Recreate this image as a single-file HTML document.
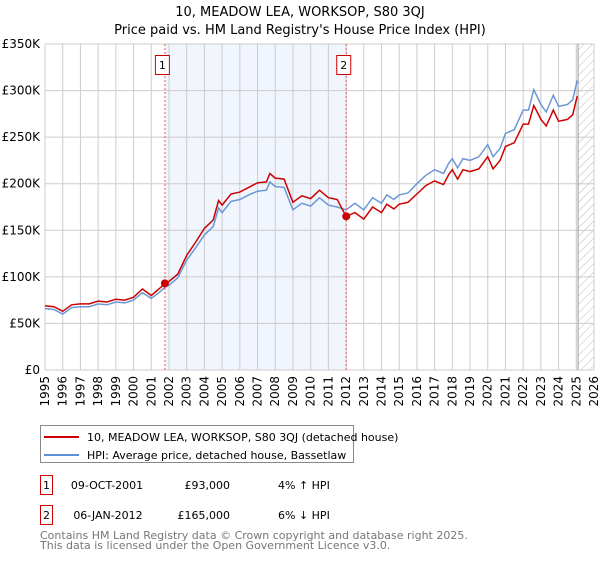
<!DOCTYPE html>
<html><head><meta charset="utf-8"><style>
body{margin:0;background:#fff;font-family:"Liberation Sans","DejaVu Sans",sans-serif;}
</style></head><body>
<svg id="c" width="600" height="560" xmlns="http://www.w3.org/2000/svg" style="font-family:'DejaVu Sans','Liberation Sans',sans-serif">
<defs><pattern id="hatch" width="6" height="6" patternUnits="userSpaceOnUse" patternTransform="rotate(45)"><line x1="0" y1="0" x2="0" y2="6" stroke="#bbb" stroke-width="1"/></pattern></defs>
<text x="300" y="16" text-anchor="middle" font-size="13">10, MEADOW LEA, WORKSOP, S80 3QJ</text>
<text x="300" y="34" text-anchor="middle" font-size="13">Price paid vs. HM Land Registry's House Price Index (HPI)</text>
<g id="plot"></g>
<g>
<rect x="40.5" y="425.5" width="313" height="37" fill="#fff" stroke="#888"/>
<line x1="44" y1="437" x2="79" y2="437" stroke="#cc0000" stroke-width="2"/>
<text x="87" y="441" font-size="11">10, MEADOW LEA, WORKSOP, S80 3QJ (detached house)</text>
<line x1="44" y1="455" x2="79" y2="455" stroke="#5b8fd6" stroke-width="2"/>
<text x="87" y="459" font-size="11">HPI: Average price, detached house, Bassetlaw</text>
</g>
<g font-size="11">
<rect x="40.5" y="475.5" width="12" height="19" fill="#fff" stroke="#cc0000"/>
<text x="46.5" y="489" text-anchor="middle">1</text>
<text x="107" y="489" text-anchor="middle">09-OCT-2001</text>
<text x="230" y="489" text-anchor="end">£93,000</text>
<text x="278" y="489">4% ↑ HPI</text>
<rect x="40.5" y="505.5" width="12" height="19" fill="#fff" stroke="#cc0000"/>
<text x="46.5" y="519" text-anchor="middle">2</text>
<text x="108" y="519" text-anchor="middle">06-JAN-2012</text>
<text x="230" y="519" text-anchor="end">£165,000</text>
<text x="278" y="519">6% ↓ HPI</text>
</g>
<text x="40" y="539" font-size="11" fill="#777">Contains HM Land Registry data © Crown copyright and database right 2025.</text>
<text x="40" y="549" font-size="11" fill="#777">This data is licensed under the Open Government Licence v3.0.</text>
</svg>
<script>
const years=[1995,1995.5,1996,1996.5,1997,1997.5,1998,1998.5,1999,1999.5,2000,2000.5,2001,2001.5,2001.77,2002,2002.5,2003,2003.5,2004,2004.5,2004.8,2005,2005.5,2006,2006.5,2007,2007.5,2007.7,2008,2008.5,2009,2009.5,2010,2010.5,2011,2011.5,2012,2012.5,2013,2013.5,2014,2014.3,2014.7,2015,2015.5,2016,2016.5,2017,2017.5,2017.8,2018,2018.3,2018.6,2019,2019.5,2020,2020.3,2020.7,2021,2021.5,2022,2022.3,2022.6,2023,2023.3,2023.7,2024,2024.5,2024.8,2025.05];
const hpiValues=[66,65,60,67,68,68,71,70,73,72,75,83,77,84,89,91,99,118,131,145,154,174,169,181,183,188,192,193,202,197,196,172,179,176,185,177,175,172,179,172,185,179,188,183,188,190,200,209,215,211,222,227,217,227,225,229,242,229,238,254,258,279,279,301,285,277,295,283,285,290,311];
const propertyValues=[69,68,63,70,71,71,74,73,76,75,78,87,80,88,93,95,103,123,137,152,161,182,177,189,191,196,201,202,211,206,205,180,187,184,193,185,183,165,169,162,175,169,178,173,178,180,189,198,203,199,210,215,205,215,213,216,229,216,225,240,244,264,264,284,269,262,279,267,269,274,294];
const saleYears=[2001.77,2012.01];
const salePrices=[93,165];
const saleLabels=["1","2"];
const yTicks=[0,50,100,150,200,250,300,350];
const yTickLabels=["£0","£50K","£100K","£150K","£200K","£250K","£300K","£350K"];
const xTicks=[];for(let y=1995;y<=2026;y++)xTicks.push(y);
const dataEnd=2025.1;

const X0=45,X1=594,Y0=370,Y1=44;
const xs=v=>X0+(v-1995)*(X1-X0)/31;
const ys=v=>Y0-v*(Y0-Y1)/350;
const NS="http://www.w3.org/2000/svg";
const g=document.getElementById('plot');
function mk(tag,attrs){const e=document.createElementNS(NS,tag);for(const k in attrs)e.setAttribute(k,attrs[k]);g.appendChild(e);return e;}

let r=mk('rect',{x:xs(saleYears[0]),y:Y1,width:xs(saleYears[1])-xs(saleYears[0]),height:Y0-Y1,fill:'#f1f5fd'});


let h=mk('rect',{x:xs(dataEnd),y:Y1,width:X1-xs(dataEnd),height:Y0-Y1,fill:'url(#hatch)'});


xTicks.forEach(t=>{const l=mk('line',{x1:xs(t),x2:xs(t),y1:Y1,y2:Y0,stroke:'#cccccc','stroke-width':1});


const tx=mk('text',{x:0,y:0,'font-size':12,'text-anchor':'end',transform:`translate(${xs(t)+4},${Y0+6}) rotate(-90)`});
tx.textContent=t;

});
yTicks.forEach((t,i)=>{const l=mk('line',{x1:X0,x2:X1,y1:ys(t),y2:ys(t),stroke:'#cccccc','stroke-width':1});


const tx=mk('text',{x:X0-5,y:ys(t)+4,'font-size':12,'text-anchor':'end'});
tx.textContent=yTickLabels[i];

});
let el=mk('line',{x1:xs(dataEnd),x2:xs(dataEnd),y1:Y1,y2:Y0,stroke:'#999','stroke-width':1});


const pts=a=>a.map((v,i)=>xs(years[i]).toFixed(1)+','+ys(v).toFixed(1)).join(' ');
let hl=mk('polyline',{points:pts(hpiValues),fill:'none',stroke:'#6b97d6','stroke-width':1.5});


let pl=mk('polyline',{points:pts(propertyValues),fill:'none',stroke:'#cc0000','stroke-width':1.5});


saleYears.forEach((sy,i)=>{
const d=mk('line',{x1:xs(sy),x2:xs(sy),y1:Y1,y2:Y0,stroke:'#e06060','stroke-width':1,'stroke-dasharray':'2,2'});


const c=mk('circle',{cx:xs(sy),cy:ys(salePrices[i]),r:4,fill:'#cc0000'});


const b=mk('rect',{x:xs(sy)-9.5,y:55.5,width:14,height:19,fill:'#fff',stroke:'#cc0000'});


const t=mk('text',{x:xs(sy)-2.5,y:69,'font-size':11,'text-anchor':'middle'});
t.textContent=saleLabels[i];


});
</script>
</body></html>
